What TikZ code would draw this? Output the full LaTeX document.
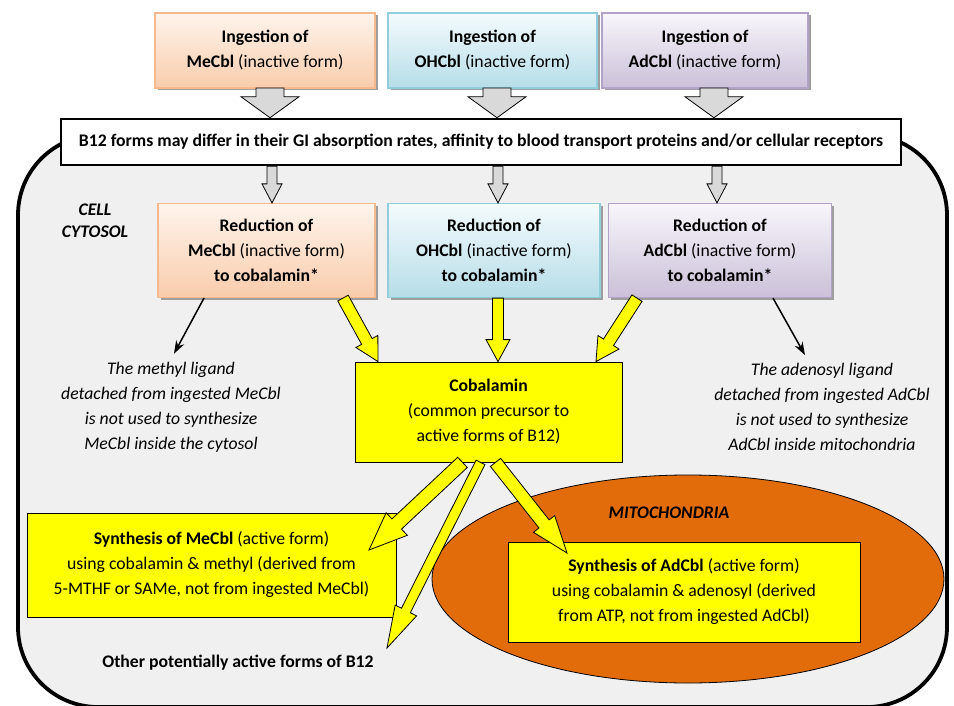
\documentclass[tikz,border=0pt]{standalone}
\usepackage{fontspec}
\setmainfont{Carlito}
\usetikzlibrary{calc,arrows.meta,shadows,shapes.geometric}
\definecolor{peachtop}{HTML}{FEF4EC}
\definecolor{peachbot}{HTML}{F9CCAC}
\definecolor{peachline}{HTML}{F6B98E}
\definecolor{bluetop}{HTML}{F4FBFD}
\definecolor{bluebot}{HTML}{B6DDE8}
\definecolor{blueline}{HTML}{92CDDC}
\definecolor{purtop}{HTML}{F8F6FB}
\definecolor{purbot}{HTML}{CBC0D9}
\definecolor{purline}{HTML}{B3A2C7}
\definecolor{cellgray}{HTML}{F0F0F0}
\definecolor{mito}{HTML}{E36C0A}
\definecolor{yel}{HTML}{FFFF00}
\definecolor{agray}{HTML}{D9D9D9}
\newcommand\barrow[6]{%
  \coordinate (ba-s) at (#2);
  \coordinate (ba-e) at (#3);
  \coordinate (ba-h) at ($(ba-e)!{#6*1pt}!(ba-s)$);
  \draw[#1] ($(ba-s)!{#4*0.5pt}!90:(ba-e)$) -- ($(ba-h)!{#4*0.5pt}!-90:(ba-s)$)
    -- ($(ba-h)!{#5*0.5pt}!-90:(ba-s)$) -- (ba-e)
    -- ($(ba-h)!{#5*0.5pt}!90:(ba-s)$) -- ($(ba-h)!{#4*0.5pt}!90:(ba-s)$)
    -- ($(ba-s)!{#4*0.5pt}!-90:(ba-e)$) -- cycle;}
\tikzset{
  txt/.style={align=center, font=\fontsize{17.7}{25}\selectfont, inner sep=0pt},
  fbox/.style={txt, draw, line width=1.2pt,
    drop shadow={shadow xshift=2.5pt, shadow yshift=-2.5pt, fill=black!38, opacity=1}},
  peachbox/.style={fbox, draw=peachline, top color=peachtop, bottom color=peachbot},
  bluebox/.style={fbox, draw=blueline, top color=bluetop, bottom color=bluebot},
  purbox/.style={fbox, draw=purline, top color=purtop, bottom color=purbot},
  ybox/.style={txt, draw=black, line width=0.8pt, fill=yel},
  grayarrow/.style={draw=black, line width=0.8pt, fill=agray},
  yarrow/.style={draw=black, line width=0.8pt, fill=yel},
  itxt/.style={txt, font=\fontsize{17.7}{25}\selectfont\itshape},
}
\begin{document}
\begin{tikzpicture}[x=1pt,y=-1pt]
\useasboundingbox (0,0) rectangle (954,706);
% cell
\draw[line width=3.8pt, fill=cellgray, rounded corners=80pt] (18,135) rectangle (947,707);
% top boxes
\node[peachbox, minimum width=220pt, minimum height=75pt] (in1) at (265,50.5) {\textbf{Ingestion of}\\\textbf{MeCbl} (inactive form)};
\node[bluebox, minimum width=209pt, minimum height=75pt] (in2) at (492.5,50.5) {\textbf{Ingestion of}\\\textbf{OHCbl} (inactive form)};
\node[purbox, minimum width=206pt, minimum height=75pt] (in3) at (705,50.5) {\textbf{Ingestion of}\\\textbf{AdCbl} (inactive form)};
% banner
\node[txt, draw, line width=2.5pt, fill=white, minimum width=840pt, minimum height=46pt] (ban) at (481,142) {\textbf{B12 forms may differ in their GI absorption rates, affinity to blood transport proteins and/or cellular receptors}};
% top gray arrows
\coordinate (ga1) at (270,88); \coordinate (ga2) at (497,88); \coordinate (ga3) at (714,88);
\barrow{grayarrow}{ga1}{ga1 |- ban.north}{28}{58}{21}
\barrow{grayarrow}{ga2}{ga2 |- ban.north}{28}{58}{21}
\barrow{grayarrow}{ga3}{ga3 |- ban.north}{28}{58}{21}
% reduction boxes
\node[peachbox, minimum width=217pt, minimum height=94pt] (r1) at (266.5,250.5) {\textbf{Reduction of}\\\textbf{MeCbl} (inactive form)\\\textbf{to cobalamin*}};
\node[bluebox, minimum width=212pt, minimum height=94pt] (r2) at (494,250.5) {\textbf{Reduction of}\\\textbf{OHCbl} (inactive form)\\\textbf{to cobalamin*}};
\node[purbox, minimum width=223pt, minimum height=94pt] (r3) at (720,250.5) {\textbf{Reduction of}\\\textbf{AdCbl} (inactive form)\\\textbf{to cobalamin*}};
% small gray arrows
\coordinate (sa1) at (272,0); \coordinate (sa2) at (498,0); \coordinate (sa3) at (717,0);
\barrow{grayarrow}{sa1 |- ban.south}{sa1 |- r1.north}{10}{20}{19}
\barrow{grayarrow}{sa2 |- ban.south}{sa2 |- r2.north}{10}{20}{19}
\barrow{grayarrow}{sa3 |- ban.south}{sa3 |- r3.north}{10}{20}{19}
% cell cytosol
\node[txt, font=\fontsize{17.7}{22}\selectfont\bfseries\itshape] (cyto) at (95,221) {CELL\\CYTOSOL};
% cobalamin
\node[ybox, minimum width=267pt, minimum height=100pt] (cob) at (488.5,412) {\textbf{Cobalamin}\\(common precursor to\\active forms of B12)};
% black arrows and ligand texts
\node[itxt] (lig1) at (171,407) {The methyl ligand\\detached from ingested MeCbl\\is not used to synthesize\\MeCbl inside the cytosol};
\node[itxt] (lig2) at (822,407) {The adenosyl ligand\\detached from ingested AdCbl\\is not used to synthesize\\AdCbl inside mitochondria};
\coordinate (b1s) at (204,0); \coordinate (b2s) at (773,0);
\draw[line width=1.5pt, -{Stealth[length=13pt,width=9pt]}] (b1s |- r1.south) -- ($(lig1.north)+(3,-8)$);
\draw[line width=1.5pt, -{Stealth[length=13pt,width=9pt]}] (b2s |- r2.south) -- ($(lig2.north)+(-17,-8)$);
% upper yellow arrows
\coordinate (ya1) at (343,0); \coordinate (ya2) at (498,0); \coordinate (ya3) at (637,0);
\coordinate (yt1) at (378,0); \coordinate (yt3) at (596,0);
\barrow{yarrow}{ya1 |- r1.south}{yt1 |- cob.north}{12}{25}{23}
\barrow{yarrow}{ya2 |- r2.south}{ya2 |- cob.north}{11}{24}{22}
\barrow{yarrow}{ya3 |- r3.south}{yt3 |- cob.north}{12}{25}{23}
% mitochondria
\node[draw=black, line width=0.8pt, fill=mito, ellipse, minimum width=512pt, minimum height=208pt, inner sep=0pt] (mit) at (688,579) {};
\node[txt, font=\fontsize{17.7}{22}\selectfont\bfseries\itshape] (mitl) at (669,513) {MITOCHONDRIA};
% synthesis boxes
\node[ybox, minimum width=369pt, minimum height=104pt] (s1) at (211.5,565) {\textbf{Synthesis of MeCbl} (active form)\\using cobalamin \& methyl (derived from\\5-MTHF or SAMe, not from ingested MeCbl)};
\node[ybox, minimum width=352pt, minimum height=100pt] (s2) at (684,592) {\textbf{Synthesis of AdCbl} (active form)\\using cobalamin \& adenosyl (derived\\from ATP, not from ingested AdCbl)};
\node[txt] (oth) at (238,663) {\textbf{Other potentially active forms of B12}};
% lower yellow arrows
\coordinate (lt1) at (369,550); \coordinate (lt2) at (387,648); \coordinate (lt3) at (567,553);
\barrow{yarrow}{$(cob.south)+(-26,0)$}{lt1}{14}{31}{38}
\barrow{yarrow}{$(cob.south)+(-8,0)$}{lt2}{10}{24}{42}
\barrow{yarrow}{$(cob.south)+(7,0)$}{lt3}{13}{27}{37}
\end{tikzpicture}
\end{document}
